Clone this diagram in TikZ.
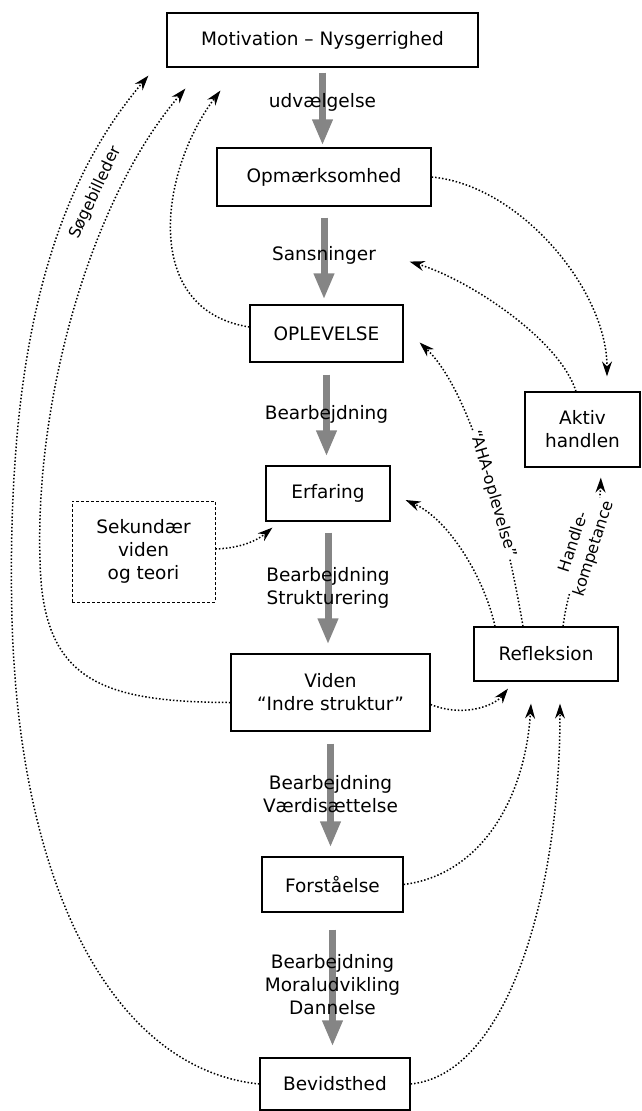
\documentclass[tikz,border=0pt]{standalone}
\usepackage{fontspec}
\setmainfont{DejaVu Sans}
\usepackage{tikz}
\usetikzlibrary{arrows.meta, positioning}

\newcommand\diafont{\fontsize{18.5}{23}\selectfont}
\newcommand\slopefont{\fontsize{16}{20}\selectfont}

\begin{document}
\begin{tikzpicture}[x=1pt, y=-1pt, font=\diafont,
  box/.style={draw, line width=1.2pt, align=center, inner sep=0pt},
  flow/.style={draw=black!48, line width=7pt, -{Triangle[width=19pt,length=26pt]}},
  fb/.style={dotted, line width=1.5pt, -{Stealth[length=15pt,width=10pt]}},
  fblabel/.style={font=\slopefont, sloped, fill=white, inner sep=1pt}]
  \useasboundingbox (0,0) rectangle (641,1111);

  % main column
  \node[box, minimum width=311pt, minimum height=54pt] (mot) at (322.5,40) {Motivation – Nysgerrighed};
  \node[box, minimum width=214pt, minimum height=58pt] (opm) at (324,177) {Opmærksomhed};
  \node[box, minimum width=153pt, minimum height=57pt] (opl) at (326.5,333.5) {OPLEVELSE};
  \node[box, minimum width=124pt, minimum height=55pt] (erf) at (328,493.5) {Erfaring};
  \node[box, minimum width=199pt, minimum height=77pt] (vid) at (330.5,692.5) {Viden\\“Indre struktur”};
  \node[box, minimum width=141pt, minimum height=55pt] (forst) at (332.5,884.5) {Forståelse};
  \node[box, minimum width=150pt, minimum height=52pt] (bev) at (335,1084) {Bevidsthed};

  % side boxes
  \node[box, densely dashed, line width=0.8pt, minimum width=143pt, minimum height=101pt] (sek) at (143.5,551.5) {Sekundær\\viden\\og teori};
  \node[box, minimum width=115pt, minimum height=75pt] (akt) at (582.5,429.5) {Aktiv\\handlen};
  \node[box, minimum width=144pt, minimum height=54pt] (refl) at (546,654) {Refleksion};

  % grey process arrows
  \draw[flow, shorten <=5pt, shorten >=2pt] (mot.south) -- (mot.south |- opm.north) node[midway, yshift=5pt] {udvælgelse};
  \draw[flow, shorten <=11pt, shorten >=5pt] (opm.south) -- (opm.south |- opl.north) node[midway] {Sansninger};
  \draw[flow, shorten <=12pt, shorten >=9pt] (opl.south) -- (opl.south |- erf.north) node[midway] {Bearbejdning};
  \draw[flow, shorten <=11pt, shorten >=9pt] (erf.south) -- (erf.south |- vid.north) node[midway, align=center] {Bearbejdning\\Strukturering};
  \draw[flow, shorten <=12pt, shorten >=9pt] (vid.south) -- (vid.south |- forst.north) node[midway, align=center] {Bearbejdning\\Værdisættelse};
  \draw[flow, shorten <=17pt, shorten >=11pt] (forst.south) -- (forst.south |- bev.north) node[midway, align=center] {Bearbejdning\\Moraludvikling\\Dannelse};

  % dotted feedback
  \draw[fb] (opm.east) .. controls (520,185) and (607,290) .. ([shift={(24.5pt,15pt)}]akt.north);
  \draw[fb] ([xshift=-6.5pt]akt.north) .. controls (560,340) and (470,280) .. ([shift={(-22pt,-55pt)}]opm.south east);
  \draw[fb] ([xshift=-23pt]refl.north) .. controls (505,520) and (470,390) .. node[fblabel, pos=0.4] {“AHA-oplevelse”} ([shift={(16pt,-9pt)}]opl.east);
  \draw[fb] ([xshift=-51pt]refl.north) .. controls (485,580) and (450,520) .. ([shift={(15pt,-6.5pt)}]erf.east);
  \draw[fb, shorten >=10pt] ([xshift=17pt]refl.north) .. controls (570,570) and (600,520) .. node[fblabel, pos=0.5, align=center, font=\fontsize{16}{21}\selectfont] {Handle-\\kompetance} ([xshift=18.5pt]akt.south);
  \draw[fb] ([yshift=-12pt]vid.east) .. controls (465,718) and (495,705) .. ([shift={(-38pt,-7pt)}]refl.south);
  \draw[fb] (forst.east) .. controls (480,875) and (525,800) .. ([shift={(-15pt,-22pt)}]refl.south);
  \draw[fb] (bev.east) .. controls (505,1075) and (560,900) .. ([shift={(14pt,-22pt)}]refl.south);
  \draw[fb] ([yshift=2.5pt]sek.east) .. controls (245,548) and (260,538) .. ([shift={(7pt,-6pt)}]erf.south west);

  % back to motivation
  \draw[fb] (bev.west) .. controls (120,1070) and (20,900) .. (12,620) .. controls (5,330) and (60,180) .. node[pos=0.7, sloped, below=7pt, font=\slopefont] {Søgebilleder} ([shift={(-18pt,-8pt)}]mot.south west);
  \draw[fb] ([yshift=-10pt]vid.west) .. controls (100,702) and (42,680) .. (40,560) .. controls (35,400) and (90,200) .. ([shift={(19pt,-21pt)}]mot.south west);
  \draw[fb] ([yshift=6.5pt]opl.west) .. controls (140,310) and (160,170) .. ([shift={(54pt,-23pt)}]mot.south west);
\end{tikzpicture}
\end{document}
